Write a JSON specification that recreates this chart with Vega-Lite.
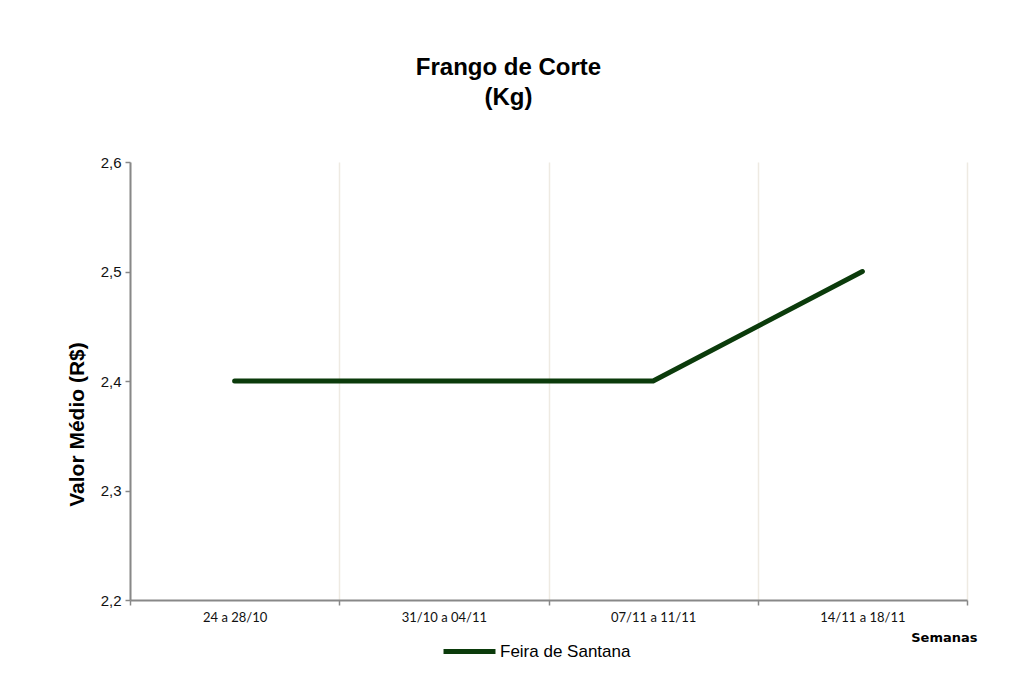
{
  "$schema": "https://vega.github.io/schema/vega-lite/v6.json",
  "autosize": "none",
  "width": 837,
  "height": 438,
  "padding": {"left": 130, "top": 162, "right": 49, "bottom": 92},
  "background": "white",
  "title": {
    "text": ["Frango de Corte", "(Kg)"],
    "font": "Liberation Sans",
    "fontSize": 24,
    "fontWeight": "bold",
    "color": "#000000",
    "lineHeight": 30,
    "anchor": "middle",
    "dx": -40,
    "offset": 45
  },
  "data": {
    "values": [
      {"semana": "24 a 28/10", "valor": 2.4, "serie": "Feira de Santana"},
      {"semana": "31/10 a 04/11", "valor": 2.4, "serie": "Feira de Santana"},
      {"semana": "07/11 a 11/11", "valor": 2.4, "serie": "Feira de Santana"},
      {"semana": "14/11 a 18/11", "valor": 2.5, "serie": "Feira de Santana"}
    ]
  },
  "mark": {"type": "line", "strokeWidth": 5, "strokeCap": "round", "strokeJoin": "round"},
  "encoding": {
    "x": {
      "field": "semana",
      "type": "ordinal",
      "sort": null,
      "scale": {"type": "band", "paddingInner": 0, "paddingOuter": 0},
      "axis": {
        "tickBand": "extent",
        "grid": true,
        "gridColor": "#eeeae2",
        "gridWidth": 1.5,
        "domainColor": "#888888",
        "domainWidth": 2,
        "tickColor": "#888888",
        "tickSize": 5,
        "tickWidth": 1.5,
        "labelAngle": 0,
        "labelFont": "Lato",
        "labelFontSize": 13,
        "labelColor": "#111111",
        "labelPadding": 6,
        "title": "Semanas",
        "titleFont": "DejaVu Sans",
        "titleFontSize": 13,
        "titleFontWeight": "bold",
        "titleColor": "#000000",
        "titleAlign": "right",
        "titleAnchor": "end",
        "titleX": 847,
        "titleY": 41,
        "titleBaseline": "alphabetic"
      }
    },
    "y": {
      "field": "valor",
      "type": "quantitative",
      "scale": {"domain": [2.2, 2.6], "zero": false, "nice": false},
      "axis": {
        "values": [2.2, 2.3, 2.4, 2.5, 2.6],
        "labelExpr": "replace(format(datum.value, '.1f'), '.', ',')",
        "grid": false,
        "domainColor": "#888888",
        "domainWidth": 2,
        "tickColor": "#888888",
        "tickSize": 5,
        "tickWidth": 1.5,
        "labelFont": "Liberation Sans",
        "labelFontSize": 15,
        "labelColor": "#111111",
        "labelPadding": 4,
        "title": "Valor Médio (R$)",
        "titleFont": "Liberation Sans",
        "titleFontSize": 21,
        "titleFontWeight": "bold",
        "titleColor": "#000000",
        "titleAngle": -90,
        "titleAlign": "center",
        "titleBaseline": "middle",
        "titleX": -53,
        "titleY": 262
      }
    },
    "color": {
      "field": "serie",
      "type": "nominal",
      "scale": {"range": ["#0b3b0b"]},
      "legend": {
        "title": null,
        "orient": "none",
        "legendX": 311,
        "legendY": 461,
        "symbolType": "stroke",
        "symbolSize": 2700,
        "symbolStrokeWidth": 5,
        "labelFont": "Liberation Sans",
        "labelFontSize": 17,
        "labelColor": "#000000",
        "labelOffset": 2
      }
    }
  },
  "config": {"view": {"stroke": null}}
}
